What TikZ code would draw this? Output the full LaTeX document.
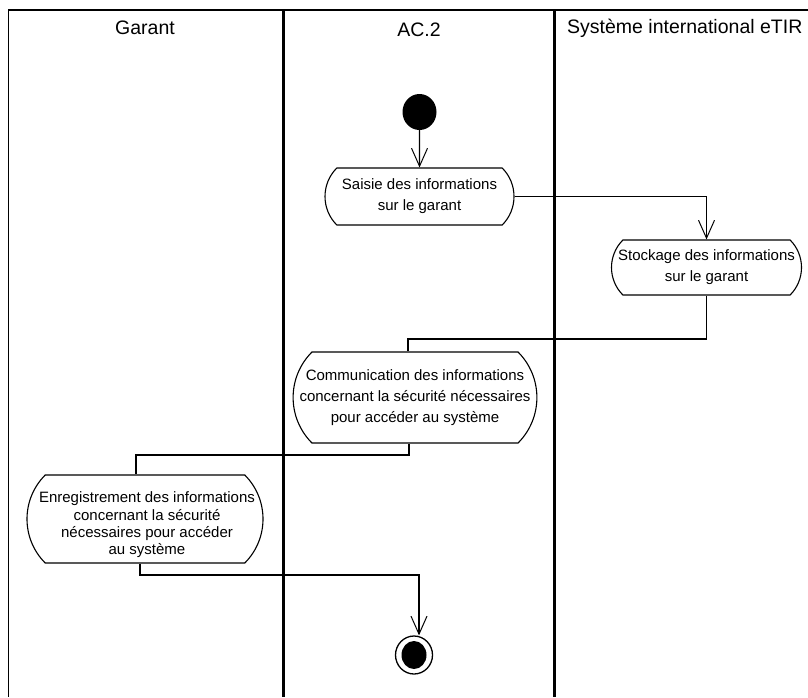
\documentclass[tikz,border=0pt]{standalone}
\usepackage{fontspec}
\setmainfont{Liberation Sans}
\usetikzlibrary{shapes.misc,shapes.geometric,arrows.meta}
\begin{document}
\begin{tikzpicture}[x=1pt,y=-1pt,
  act/.style={rounded rectangle, rounded rectangle arc length=90, draw, line width=1.1pt, inner sep=0pt, align=center, font=\fontsize{15}{21}\selectfont},
  flow/.style={line width=1.1pt},
  arr/.style={flow,-{Straight Barb[length=18pt,width=16pt,line width=1pt]}},
  lane/.style={line width=2.4pt},
  hdr/.style={font=\fontsize{19.5}{22}\selectfont, inner sep=0pt}]
\useasboundingbox (0,0) rectangle (808,697);
% swimlanes
\draw[line width=1.2pt] (8.5,10) -- (8.5,697);
\draw[line width=1.5pt] (8,10) -- (808,10);
\draw[lane] (283.5,9) -- (283.5,697);
\draw[lane] (554.5,9) -- (554.5,697);
\node[hdr] (hg) at (145,28) {Garant};
\node[hdr] (ha) at (419,30) {AC.2};
\node[hdr, anchor=west] (hs) at (567,28) {Système international eTIR};
% nodes
\node[ellipse, fill, minimum width=34pt, minimum height=36pt, inner sep=0pt] (init) at (419.5,112) {};
\node[act, minimum width=189pt, minimum height=57pt] (saisie) at (419.5,196.5) {Saisie des informations\\sur le garant};
\node[act, minimum width=190pt, minimum height=55pt] (stock) at (706.5,267.5) {Stockage des informations\\sur le garant};
\node[act, minimum width=240pt, minimum height=91pt] (comm) at (415,397.5) {Communication des informations\\concernant la sécurité nécessaires\\pour accéder au système};
\node[act, minimum width=236pt, minimum height=88pt] (enr) at (145,519) {};
\node[inner sep=0pt, align=center, font=\fontsize{15}{17.3}\selectfont] (enrtext) at (147,525) {Enregistrement des informations\\concernant la sécurité\\nécessaires pour accéder\\au système};
\node[ellipse, draw, line width=1.3pt, minimum width=37pt, minimum height=38pt, inner sep=0pt] (fin) at (414,655) {};
\node[ellipse, fill, minimum width=25pt, minimum height=28pt, inner sep=0pt] (finc) at (fin) {};
% connectors
\coordinate (b1) at (408,339);
\coordinate (b2) at (136,455);
\coordinate (b3) at (419,575);
\draw[arr] (init) -- (saisie);
\draw[arr] (saisie.east) -| (stock.north);
\draw[flow] (stock.south) |- (b1) -- (b1 |- comm.north);
\draw[flow] ([xshift=-6pt]comm.south) |- (b2) -- (b2 |- enr.north);
\draw[arr] ([xshift=-5pt]enr.south) |- (b3) -- (b3 |- fin.north);
\end{tikzpicture}
\end{document}
